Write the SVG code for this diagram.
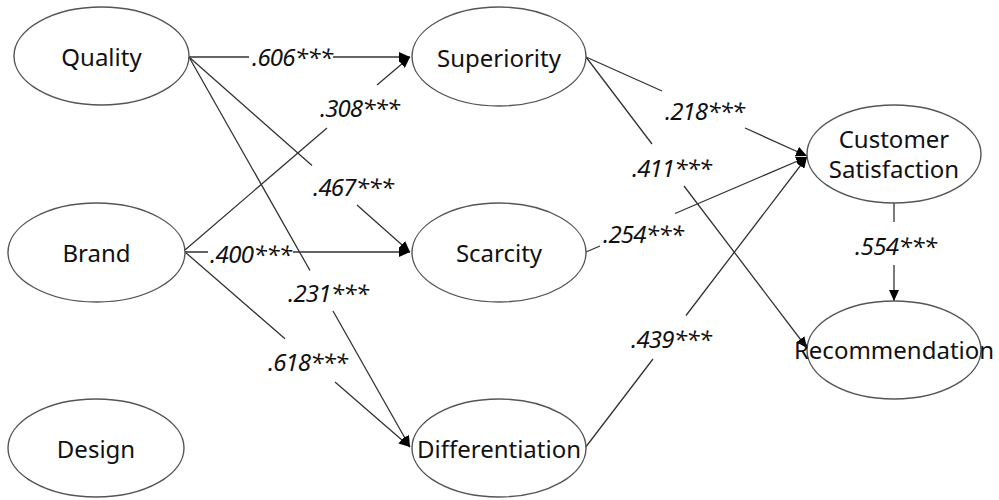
<svg xmlns="http://www.w3.org/2000/svg" width="999" height="500" viewBox="0 0 999 500">
<defs>
<marker id="arr" markerUnits="userSpaceOnUse" markerWidth="12" markerHeight="10" refX="11" refY="5" orient="auto">
<path d="M0,0 L11,5 L0,10 Z" fill="#000"/>
</marker>
<style>
.node ellipse{fill:#fff;stroke:#555;stroke-width:1.4}
.node text{font-family:"Noto Sans","Open Sans",sans-serif;font-size:24px;fill:#111;text-anchor:middle}
.edge{fill:none;stroke:#333;stroke-width:1.3;marker-end:url(#arr)}
.lbl{font-family:"Noto Sans","Open Sans",sans-serif;font-size:24px;font-style:italic;fill:#111}
</style>
</defs>
<rect width="999" height="500" fill="#fff"/>
<g id="connectors">
<path class="edge" d="M189,57 H249 M333,57 H410"/>
<path class="edge" d="M185,250 L327,128 M377,85 L410,57"/>
<path class="edge" d="M189,57 L312,165.5 M357,205 L410,252"/>
<path class="edge" d="M189,57 L310,270.5 M333,311 L410,447"/>
<path class="edge" d="M185,252 H208 M293,252 H410"/>
<path class="edge" d="M185,252 L285,338.7 M335,382 L410,447"/>
<path class="edge" d="M586,57 L662,91 M745,128 L807,156"/>
<path class="edge" d="M586,57 L652,144 M684,186 L807,348"/>
<path class="edge" d="M586,252 L600,246 M675,213.5 L807,157"/>
<path class="edge" d="M585,448 L653,359 M686,315.5 L807,157"/>
<path class="edge" d="M894,203 V222 M894,265 V301"/>
<text class="lbl" x="252" y="66" textLength="81">.606***</text>
<text class="lbl" x="320" y="117" textLength="80">.308***</text>
<text class="lbl" x="313" y="196" textLength="81">.467***</text>
<text class="lbl" x="210" y="263" textLength="82">.400***</text>
<text class="lbl" x="288" y="302" textLength="81">.231***</text>
<text class="lbl" x="268" y="371" textLength="80">.618***</text>
<text class="lbl" x="665" y="120" textLength="80">.218***</text>
<text class="lbl" x="632" y="177" textLength="80">.411***</text>
<text class="lbl" x="603" y="243" textLength="81">.254***</text>
<text class="lbl" x="631" y="348" textLength="81">.439***</text>
<text class="lbl" x="855" y="255" textLength="82">.554***</text>
</g>
<g id="quality" class="node"><ellipse cx="101.5" cy="56" rx="87.5" ry="49"/><text x="101.5" y="66">Quality</text></g>
<g id="brand" class="node"><ellipse cx="96.5" cy="252.5" rx="88.5" ry="49.5"/><text x="96.5" y="262">Brand</text></g>
<g id="design" class="node"><ellipse cx="96" cy="448" rx="88" ry="49"/><text x="96" y="458">Design</text></g>
<g id="superiority" class="node"><ellipse cx="499" cy="56.5" rx="87" ry="49.5"/><text x="499" y="66.5">Superiority</text></g>
<g id="scarcity" class="node"><ellipse cx="499" cy="252.5" rx="87" ry="49.5"/><text x="499" y="262">Scarcity</text></g>
<g id="differentiation" class="node"><ellipse cx="499" cy="448" rx="87" ry="49"/><text x="499" y="458">Differentiation</text></g>
<g id="customer-satisfaction" class="node"><ellipse cx="894" cy="154" rx="87" ry="49"/><text x="894" y="148">Customer</text><text x="894" y="178">Satisfaction</text></g>
<g id="recommendation" class="node"><ellipse cx="894" cy="350" rx="87" ry="49"/><text x="894" y="359">Recommendation</text></g>
</svg>
